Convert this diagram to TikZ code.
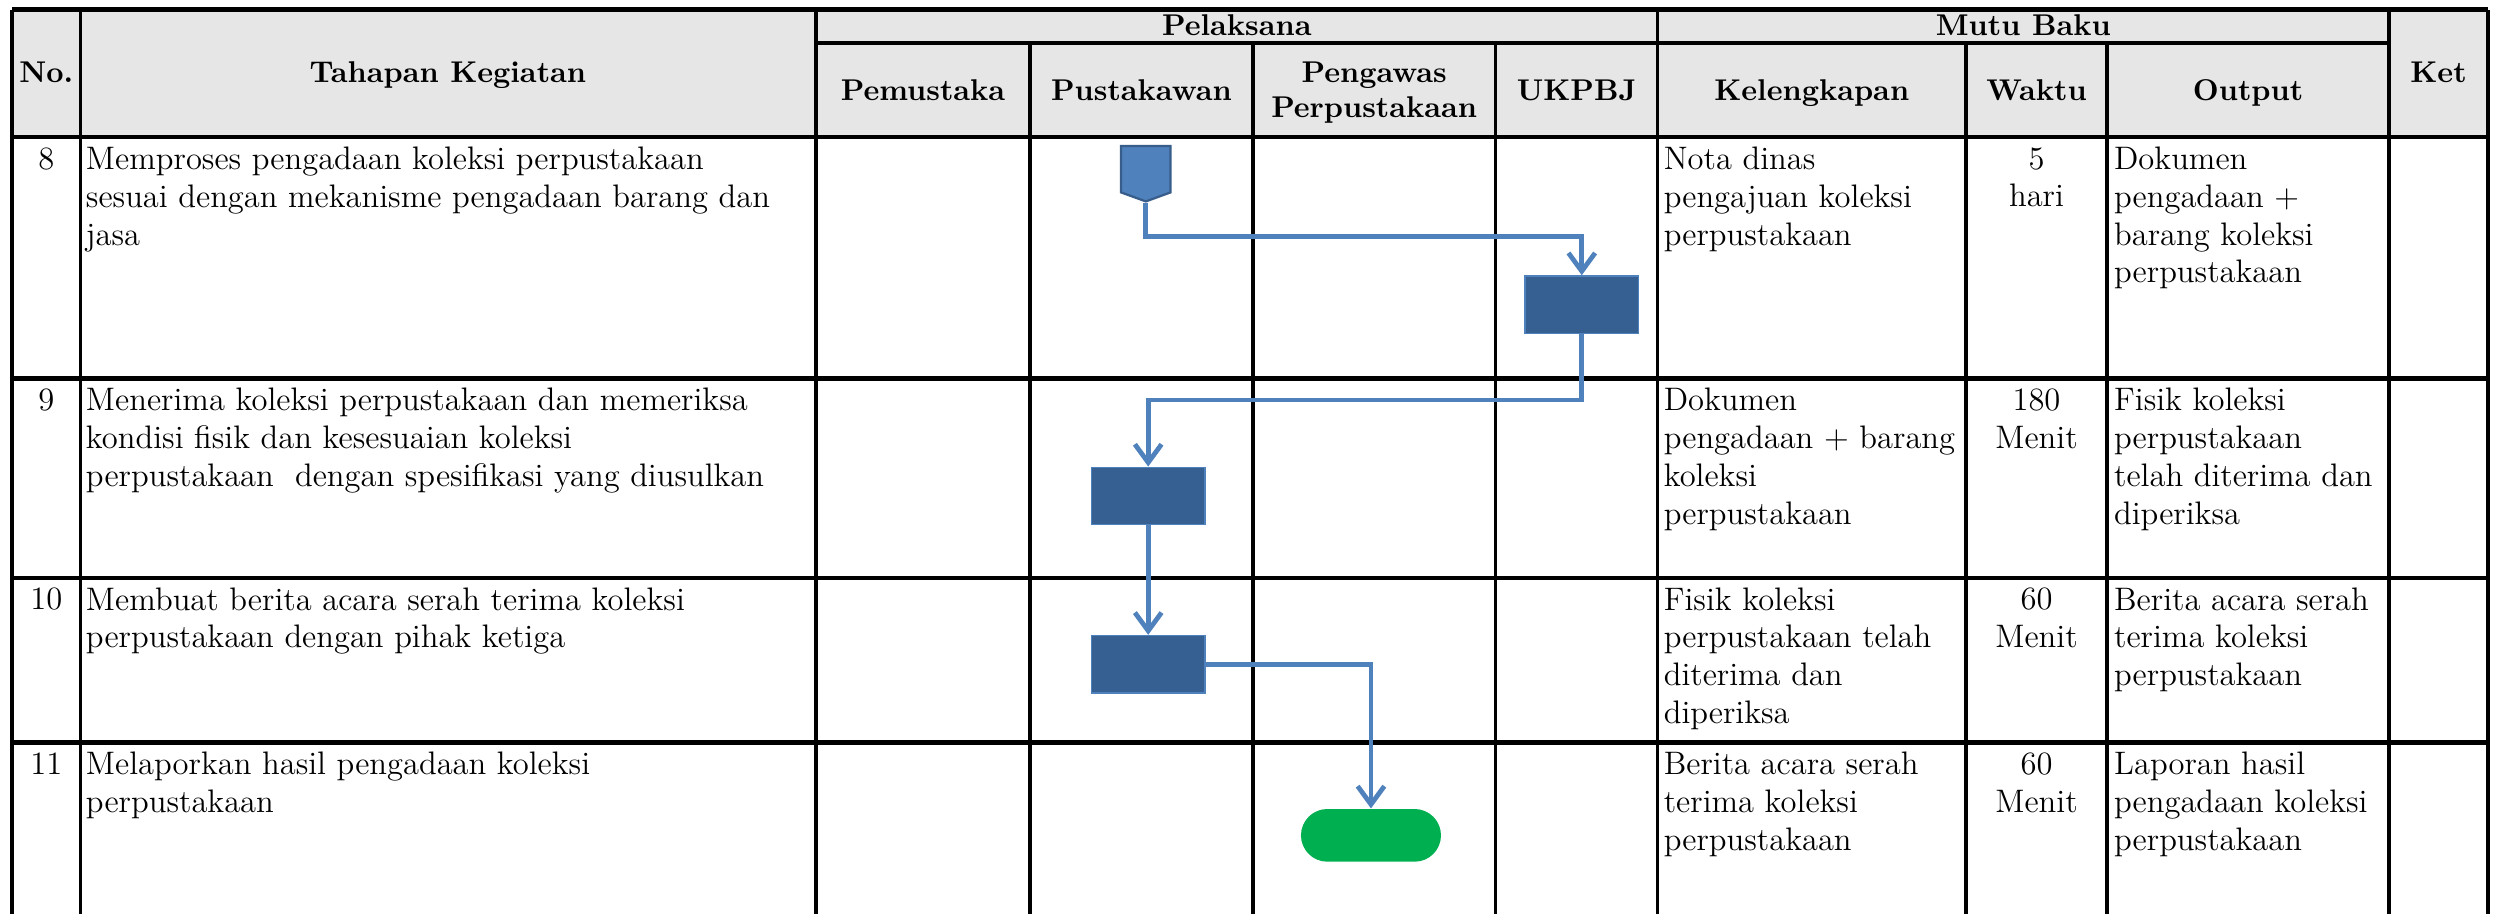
\documentclass[tikz,border=0pt]{standalone}
\usepackage{tikz}
\usetikzlibrary{arrows.meta,shapes.symbols}
\definecolor{headgray}{RGB}{230,230,230}
\definecolor{flowblue}{RGB}{79,129,189}
\definecolor{boxfill}{RGB}{55,96,146}
\definecolor{opedge}{RGB}{56,93,138}
\definecolor{termgreen}{RGB}{0,176,80}
\newcommand\cellst{\rule{0pt}{8pt}}
\begin{document}
\begin{tikzpicture}[x=0.02cm,y=-0.02cm,
  hline/.style={line width=1.5pt, black},
  vline/.style={line width=1.3pt, black},
  hdr/.style={font=\fontsize{10.7}{12.5}\selectfont\bfseries, inner sep=0pt, anchor=base},
  cell/.style={font=\fontsize{11.6}{13.5}\selectfont, inner sep=0pt, anchor=north west, align=left},
  cellc/.style={font=\fontsize{11.6}{13.5}\selectfont, inner sep=0pt, anchor=north, align=center},
  procbox/.style={fill=boxfill, draw=flowblue, line width=0.5pt, minimum width=1.42cm, minimum height=0.72cm, inner sep=0pt},
  termbox/.style={fill=termgreen, rounded corners=0.33cm, minimum width=1.754cm, minimum height=0.66cm, inner sep=0pt},
  offpage/.style={shape=signal, signal to=south, signal from=nowhere, signal pointer angle=140, fill=flowblue, draw=opedge, line width=0.8pt, minimum width=0.62cm, minimum height=0.58cm, inner sep=0pt},
  flow/.style={draw=flowblue, line width=1.7pt, -{Straight Barb[length=6.5pt,width=9.5pt]}}
]
\useasboundingbox (0,0) rectangle (1568,572.4);
% header background
\fill[headgray] (7.5,6) rectangle (1558,86);
% horizontal lines
\draw[hline] (7.5,6) -- (1558,6);
\draw[hline] (511,27) -- (1496,27);
\draw[hline] (7.5,86) -- (1558,86);
\draw[hline] (7.5,237) -- (1558,237);
\draw[hline] (7.5,362) -- (1558,362);
\draw[hline] (7.5,465) -- (1558,465);
% vertical lines
\foreach \xx in {7.5,50.5,511,1038,1496,1558} {\draw[vline] (\xx,6) -- (\xx,572.4);}
\foreach \xx in {645,784.5,936.5,1231,1319.5} {\draw[vline] (\xx,27) -- (\xx,572.4);}
% headers
\node[hdr] (hno) at (29,51.5) {No.};
\node[hdr] (htah) at (280.5,51.5) {Tahapan Kegiatan};
\node[hdr] (hpel) at (774.5,22) {Pelaksana};
\node[hdr] (hmut) at (1267,22) {Mutu Baku};
\node[hdr] (hket) at (1527,51.5) {Ket};
\node[hdr] (hpem) at (578,63) {Pemustaka};
\node[hdr] (hpus) at (714.75,63) {Pustakawan};
\node[hdr, anchor=north, align=center] (hpeng) at (860.5,38.6) {Pengawas\\Perpustakaan};
\node[hdr] (hukp) at (987.25,63) {UKPBJ};
\node[hdr] (hkel) at (1134.5,63) {Kelengkapan};
\node[hdr] (hwak) at (1275.25,63) {Waktu};
\node[hdr] (hout) at (1407.75,63) {Output};
% row 8
\node[cellc] (n8) at (29,91.5) {\cellst 8};
\node[cell] (t8) at (53.5,91.5) {\cellst Memproses pengadaan koleksi perpustakaan\\sesuai dengan mekanisme pengadaan barang dan\\jasa};
\node[cell] (k8) at (1041.5,91.5) {\cellst Nota dinas\\pengajuan koleksi\\perpustakaan};
\node[cellc] (w8) at (1275.25,91.5) {\cellst 5\\hari};
\node[cell] (o8) at (1323.5,91.5) {\cellst Dokumen\\pengadaan +\\barang koleksi\\perpustakaan};
% row 9
\node[cellc] (n9) at (29,242.5) {\cellst 9};
\node[cell] (t9) at (53.5,242.5) {\cellst Menerima koleksi perpustakaan dan memeriksa\\kondisi fisik dan kesesuaian koleksi\\perpustakaan~ dengan spesifikasi yang diusulkan};
\node[cell] (k9) at (1041.5,242.5) {\cellst Dokumen\\pengadaan + barang\\koleksi\\perpustakaan};
\node[cellc] (w9) at (1275.25,242.5) {\cellst 180\\Menit};
\node[cell] (o9) at (1323.5,242.5) {\cellst Fisik koleksi\\perpustakaan\\telah diterima dan\\diperiksa};
% row 10
\node[cellc] (n10) at (29,367.5) {\cellst 10};
\node[cell] (t10) at (53.5,367.5) {\cellst Membuat berita acara serah terima koleksi\\perpustakaan dengan pihak ketiga};
\node[cell] (k10) at (1041.5,367.5) {\cellst Fisik koleksi\\perpustakaan telah\\diterima dan\\diperiksa};
\node[cellc] (w10) at (1275.25,367.5) {\cellst 60\\Menit};
\node[cell] (o10) at (1323.5,367.5) {\cellst Berita acara serah\\terima koleksi\\perpustakaan};
% row 11
\node[cellc] (n11) at (29,470.5) {\cellst 11};
\node[cell] (t11) at (53.5,470.5) {\cellst Melaporkan hasil pengadaan koleksi\\perpustakaan};
\node[cell] (k11) at (1041.5,470.5) {\cellst Berita acara serah\\terima koleksi\\perpustakaan};
\node[cellc] (w11) at (1275.25,470.5) {\cellst 60\\Menit};
\node[cell] (o11) at (1323.5,470.5) {\cellst Laporan hasil\\pengadaan koleksi\\perpustakaan};
% flow shapes
\node[offpage] (op) at (717.5,106) {};
\node[procbox] (u8) at (990.5,190.8) {};
\node[procbox] (p9) at (719,310.6) {};
\node[procbox] (p10) at (719,416) {};
\node[termbox] (tm) at (858.5,523.1) {};
\coordinate (j1) at (717.5,148);
\coordinate (j2) at (990.5,250.5);
% connectors
\draw[flow] (op.south) -- (j1) -| (u8.north);
\draw[flow] (u8.south) -- (j2) -| (p9.north);
\draw[flow] (p9.south) -- (p10.north);
\draw[flow] (p10.east) -| (tm.north);
\end{tikzpicture}
\end{document}
